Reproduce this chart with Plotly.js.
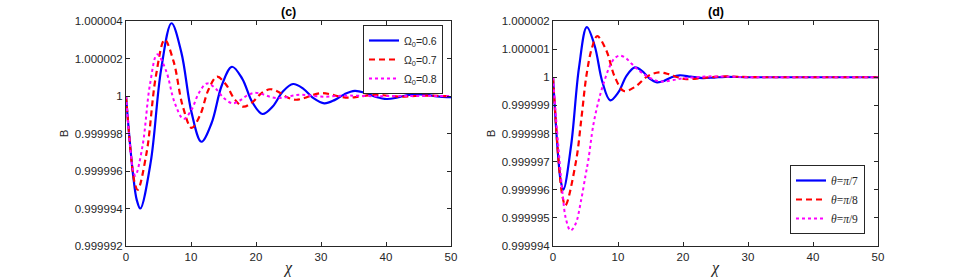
<!DOCTYPE html>
<html>
<head>
<meta charset="utf-8">
<script src="https://cdn.plot.ly/plotly-3.0.1.min.js"></script>
<style>
html,body{margin:0;padding:0;background:#ffffff;}
#chart{width:969px;height:277px;}
</style>
</head>
<body>
<div id="chart"></div>
<script>
// ---------- Panel (c): B versus chi for three Omega_0 values ----------
const xC06 = [0, 0.55, 1.1, 1.65, 2.2, 3.8, 5.4, 7.0, 8.53, 10.07, 11.6, 13.17, 14.73, 16.3, 17.87, 19.43, 21.0, 22.57, 24.13, 25.7, 27.3, 28.9, 30.5, 32.07, 33.63, 35.2, 36.83, 38.47, 40.1, 41.63, 43.17, 44.7, 46.27, 47.83, 49.4, 50];
const bC06 = [1, 0.9999977, 0.99999576, 0.99999446, 0.999994, 0.99999647, 1.00000141, 1.00000388, 1.0000023, 0.99999914, 0.99999756, 0.99999856, 1.00000056, 1.00000156, 1.00000093, 0.99999967, 0.99999904, 0.99999944, 1.00000024, 1.00000064, 1.00000038, 0.99999987, 0.99999961, 0.99999978, 1.0000001, 1.00000027, 1.00000016, 0.99999995, 0.99999984, 0.999999905, 1.000000035, 1.0000001, 1.00000006, 0.99999998, 0.99999994, 0.999999945];

const xC07 = [0, 0.45, 0.9, 1.35, 1.8, 3.18, 4.57, 5.95, 7.33, 8.72, 10.1, 11.4, 12.7, 14.0, 15.35, 16.7, 18.05, 19.42, 20.78, 22.15, 23.47, 24.78, 26.1, 27.43, 28.77, 30.1, 31.47, 32.83, 34.2, 35.57, 36.93, 38.3, 39.67, 41.03, 42.4, 44.5, 46.5, 48.3, 50];
const bC07 = [1, 0.99999805, 0.9999964, 0.99999535, 0.999995, 0.999997, 1.000001, 1.000003, 1.00000183, 0.99999947, 0.9999983, 0.99999898, 1.00000035, 1.00000103, 1.00000063, 0.99999983, 0.99999943, 0.99999966, 1.00000013, 1.00000036, 1.00000022, 0.99999994, 0.9999998, 0.99999989, 1.00000006, 1.00000015, 1.00000009, 0.99999997, 0.99999991, 0.99999995, 1.00000002, 1.00000006, 1.00000004, 0.99999999, 0.999999965, 1, 1.00000002, 1, 0.99999999];

const xC08 = [0, 0.36, 0.72, 1.08, 1.44, 2.56, 3.68, 4.8, 6.15, 7.5, 8.85, 10.05, 11.26, 12.46, 13.77, 15.09, 16.4, 17.53, 18.67, 19.8, 20.97, 22.13, 23.3, 24.53, 25.77, 27.0, 28.8, 30.7, 32.5, 34.4, 38, 42, 46, 50];
const bC08 = [1, 0.99999837, 0.999997, 0.99999607, 0.99999575, 0.99999737, 1.0000006, 1.00000222, 1.00000136, 0.99999963, 0.99999877, 0.99999925, 1.00000019, 1.00000067, 1.0000004, 0.99999988, 0.99999961, 0.99999976, 1.00000004, 1.00000017, 1.0000001, 0.99999996, 0.99999989, 0.99999993, 1.00000003, 1.00000007, 1.00000001, 0.99999996, 1, 1.00000002, 0.99999999, 1.000000005, 1, 1];

// ---------- Panel (d): B versus chi for three theta values ----------
const xD7 = [0, 0.4, 0.8, 1.2, 1.6, 2.8, 4.0, 5.2, 6.4, 7.6, 8.8, 10.07, 11.33, 12.6, 13.73, 14.87, 16.0, 17.17, 18.33, 19.5, 21.2, 23.0, 24.8, 26.5, 30, 35, 40, 45, 50];
const bD7 = [1, 0.99999847, 0.99999717, 0.9999963, 0.999996, 0.9999976, 1.00000034, 1.00000178, 1.00000113, 0.99999983, 0.99999918, 0.99999947, 1.00000006, 1.00000035, 1.00000022, 0.99999995, 0.99999982, 0.99999988, 1.00000001, 1.00000007, 1.00000002, 0.99999997, 0.99999999, 1.000000015, 1, 1, 1, 1, 1];

const xD8 = [0, 0.475, 0.95, 1.43, 1.9, 3.53, 4.4, 5.17, 6.0, 6.8, 8.17, 9.53, 10.9, 12.7, 14.5, 16.3, 17.8, 19.3, 20.5, 23.5, 26.5, 30, 35, 40, 45, 50];
const bD8 = [1, 0.99999826, 0.99999678, 0.9999958, 0.99999544, 0.999997, 0.9999986, 1.0000001, 1.00000105, 1.00000146, 1.00000097, 1, 0.99999951, 0.99999967, 1.00000003, 1.00000017, 1.00000011, 0.99999999, 0.99999993, 0.99999999, 1.00000003, 1.000000005, 1, 1, 1, 1];

const xD9 = [0, 0.5, 1.0, 1.5, 2.0, 2.7, 3.5, 4.3, 5.0, 5.43, 6.2, 7.0, 7.74, 8.77, 9.5, 10.3, 11.2, 12.1, 12.9, 14.0, 14.9, 15.9, 17.0, 18.5, 20, 22, 24, 27, 30, 35, 40, 45, 50];
const bD9 = [1, 0.99999845, 0.99999705, 0.9999958, 0.99999495, 0.99999455, 0.9999948, 0.9999956, 0.9999965, 0.99999705, 0.9999983, 0.99999915, 0.99999975, 1.00000041, 1.00000068, 1.00000077, 1.00000068, 1.00000048, 1.0000003, 1.0000001, 0.99999998, 0.99999988, 0.99999985, 0.9999999, 0.99999996, 1, 1.00000003, 1.00000002, 1, 1, 1, 1, 1];

// ---------- labels and ticks ----------
const namesC = ['\u03A9<sub>0</sub>=0.6', '\u03A9<sub>0</sub>=0.7', '\u03A9<sub>0</sub>=0.8'];
const namesD = ['<i>\u03B8</i>=<i>\u03C0</i>/7', '<i>\u03B8</i>=<i>\u03C0</i>/8', '<i>\u03B8</i>=<i>\u03C0</i>/9'];
const panelTitles = ['(c)', '(d)'];
const xTickVals = [0, 10, 20, 30, 40, 50];
const xTickText = ['0', '10', '20', '30', '40', '50'];
const yTickValsC = [0.999992, 0.999994, 0.999996, 0.999998, 1, 1.000002, 1.000004];
const yTickTextC = ['0.999992', '0.999994', '0.999996', '0.999998', '1', '1.000002', '1.000004'];
const yTickValsD = [0.999994, 0.999995, 0.999996, 0.999997, 0.999998, 0.999999, 1, 1.000001, 1.000002];
const yTickTextD = ['0.999994', '0.999995', '0.999996', '0.999997', '0.999998', '0.999999', '1', '1.000001', '1.000002'];

const W = 969, H = 277;
const sans = 'Liberation Sans, Arial, Helvetica, sans-serif';
const serif = 'Liberation Serif, Times New Roman, serif';

const styles = [
  {color: '#0000ff', width: 2.2, dash: 'solid'},
  {color: '#ff0000', width: 2.2, dash: '6px,4px'},
  {color: '#ff00ff', width: 2, dash: 'dot'}
];

function tr(x, y, name, s, xa, ya, lg) {
  return {x: x, y: y, name: name, type: 'scatter', mode: 'lines',
    xaxis: xa, yaxis: ya, legend: lg,
    line: {color: s.color, width: s.width, dash: s.dash, shape: 'spline', smoothing: 1}};
}

const data = [
  tr(xC06, bC06, namesC[0], styles[0], 'x', 'y', 'legend'),
  tr(xC07, bC07, namesC[1], styles[1], 'x', 'y', 'legend'),
  tr(xC08, bC08, namesC[2], styles[2], 'x', 'y', 'legend'),
  tr(xD7, bD7, namesD[0], styles[0], 'x2', 'y2', 'legend2'),
  tr(xD8, bD8, namesD[1], styles[1], 'x2', 'y2', 'legend2'),
  tr(xD9, bD9, namesD[2], styles[2], 'x2', 'y2', 'legend2')
];

const axisBase = {
  showline: true, linecolor: '#262626', linewidth: 1, mirror: 'ticks',
  ticks: 'inside', ticklen: 4, tickwidth: 1, tickcolor: '#262626',
  showgrid: false, zeroline: false, fixedrange: true,
  tickfont: {family: sans, size: 11.5, color: '#262626'}
};

const yDom = [(H - 246) / H, (H - 21) / H];

const layout = {
  width: W, height: H,
  margin: {l: 0, r: 0, t: 0, b: 0},
  paper_bgcolor: '#ffffff', plot_bgcolor: '#ffffff',
  showlegend: true,
  xaxis: Object.assign({}, axisBase, {
    domain: [126 / W, 451 / W], anchor: 'y', range: [0, 50],
    tickmode: 'array', tickvals: xTickVals, ticktext: xTickText,
    title: {text: '<i>\u03C7</i>', font: {family: serif, size: 16, color: '#262626'}, standoff: 1}
  }),
  yaxis: Object.assign({}, axisBase, {
    domain: yDom, anchor: 'x', range: [0.999992, 1.000004],
    tickmode: 'array', tickvals: yTickValsC, ticktext: yTickTextC,
    title: {text: 'B', font: {family: sans, size: 11.5, color: '#262626'}, standoff: 3}
  }),
  xaxis2: Object.assign({}, axisBase, {
    domain: [553 / W, 878 / W], anchor: 'y2', range: [0, 50],
    tickmode: 'array', tickvals: xTickVals, ticktext: xTickText,
    title: {text: '<i>\u03C7</i>', font: {family: serif, size: 16, color: '#262626'}, standoff: 1}
  }),
  yaxis2: Object.assign({}, axisBase, {
    domain: yDom, anchor: 'x2', range: [0.999994, 1.000002],
    tickmode: 'array', tickvals: yTickValsD, ticktext: yTickTextD,
    title: {text: 'B', font: {family: sans, size: 11.5, color: '#262626'}, standoff: 3}
  }),
  legend: {
    x: 443 / W, xanchor: 'right', y: (H - 25) / H, yanchor: 'top',
    bgcolor: '#ffffff', bordercolor: '#262626', borderwidth: 1,
    font: {family: sans, size: 10.5, color: '#262626'},
    itemwidth: 30, tracegroupgap: 0
  },
  legend2: {
    x: 865 / W, xanchor: 'right', y: (H - 234) / H, yanchor: 'bottom',
    bgcolor: '#ffffff', bordercolor: '#262626', borderwidth: 1,
    font: {family: serif, size: 11.5, color: '#262626'},
    itemwidth: 30, tracegroupgap: 0
  },
  annotations: [
    {text: '<b>' + panelTitles[0] + '</b>', xref: 'paper', yref: 'paper',
     x: 288.5 / W, y: (H - 12) / H, xanchor: 'center', yanchor: 'middle', showarrow: false,
     font: {family: sans, size: 12.5, color: '#000000'}},
    {text: '<b>' + panelTitles[1] + '</b>', xref: 'paper', yref: 'paper',
     x: 715.5 / W, y: (H - 12) / H, xanchor: 'center', yanchor: 'middle', showarrow: false,
     font: {family: sans, size: 12.5, color: '#000000'}}
  ]
};

Plotly.newPlot('chart', data, layout, {displayModeBar: false, staticPlot: true});
</script>
</body>
</html>
